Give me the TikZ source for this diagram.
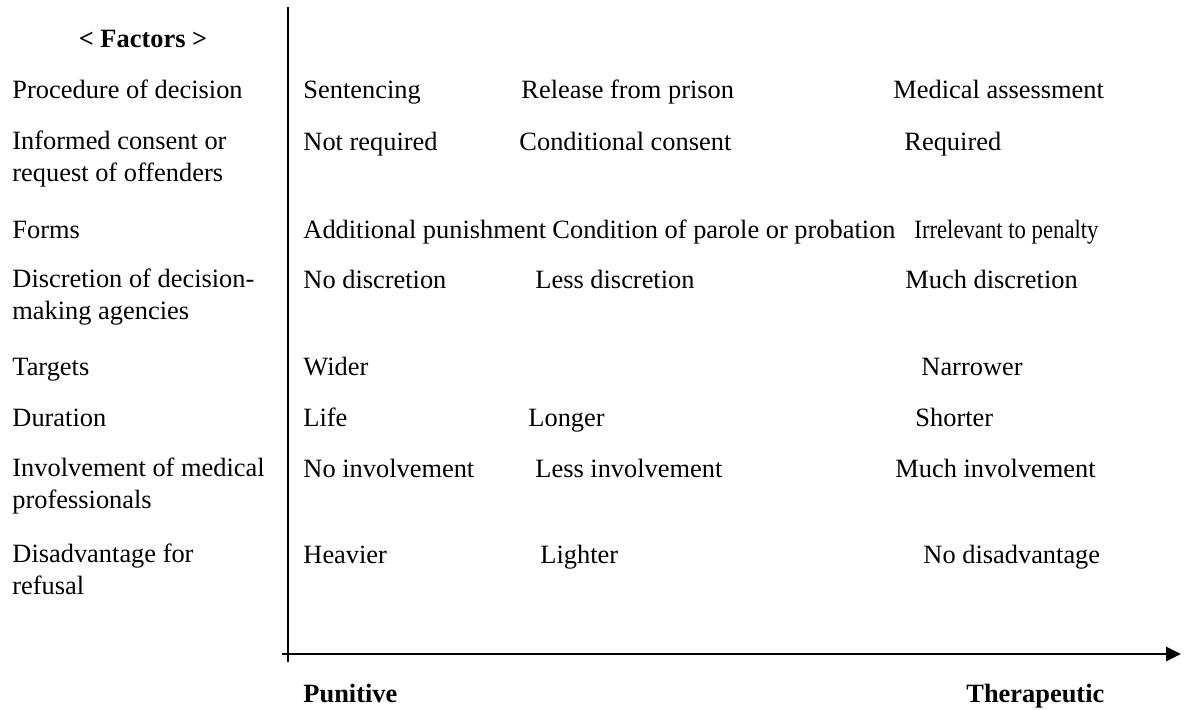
\documentclass[tikz,border=0pt]{standalone}
\usepackage{fontspec}
\setmainfont{Liberation Serif}
\usepackage{graphicx}
\usepackage{tikz}
\usetikzlibrary{arrows.meta}
\definecolor{mydark}{RGB}{0,0,0}
\tikzset{
  factor/.style={anchor=base west, inner sep=0pt, align=left,
    font=\fontsize{12pt}{14.1pt}\selectfont},
  level/.style={anchor=base west, inner sep=0pt,
    font=\fontsize{12pt}{14.1pt}\selectfont},
  pole/.style={anchor=base west, inner sep=0pt,
    font=\fontsize{12pt}{14.1pt}\selectfont\bfseries},
  axisline/.style={line width=1.1pt, color=mydark},
  axisarrow/.style={-{Triangle[length=6.8pt, width=6.4pt]}, line width=1.1pt, color=mydark}
}

\begin{document}
\begin{tikzpicture}[x=0.4545pt, y=-0.4545pt]
  \useasboundingbox (0,0) rectangle (1185,709);

  % ── Header ──
  \node[pole, anchor=base] (hdr) at (143,47) {< Factors >};

  % ── Procedure of decision ──
  \node[factor] (fproc) at (12,98) {Procedure of decision};
  \node[level] (proca) at (303,98) {Sentencing};
  \node[level] (procb) at (521,98) {Release from prison};
  \node[level] (procc) at (893,98) {Medical assessment};

  % ── Informed consent (two-line factor: base = last line) ──
  \node[factor] (fcons) at (12,181) {Informed consent or\\request of offenders};
  \node[level] (consa) at (303,150) {Not required};
  \node[level] (consb) at (519,150) {Conditional consent};
  \node[level] (consc) at (904,150) {Required};

  % ── Forms ──
  \node[factor] (fform) at (12,238) {Forms};
  \node[level] (forma) at (303,238) {Additional punishment};
  \node[level] (formb) at (552,238) {Condition of parole or probation};
  \node[level] (formc) at (914,238) {\scalebox{0.86}[1]{Irrelevant to penalty}};

  % ── Discretion ──
  \node[factor] (fdisc) at (12,319) {Discretion of decision-\\making agencies};
  \node[level] (disca) at (303,288) {No discretion};
  \node[level] (discb) at (535,288) {Less discretion};
  \node[level] (discc) at (905,288) {Much discretion};

  % ── Targets ──
  \node[factor] (ftarg) at (12,375) {Targets};
  \node[level] (targa) at (303,375) {Wider};
  \node[level] (targc) at (921,375) {Narrower};

  % ── Duration ──
  \node[factor] (fdur) at (12,426) {Duration};
  \node[level] (dura) at (303,426) {Life};
  \node[level] (durb) at (528,426) {Longer};
  \node[level] (durc) at (915,426) {Shorter};

  % ── Involvement ──
  \node[factor] (finv) at (12,508) {Involvement of medical\\professionals};
  \node[level] (inva) at (303,477) {No involvement};
  \node[level] (invb) at (535,477) {Less involvement};
  \node[level] (invc) at (895,477) {Much involvement};

  % ── Disadvantage ──
  \node[factor] (fdis) at (12,594) {Disadvantage for\\refusal};
  \node[level] (disa) at (303,563) {Heavier};
  \node[level] (disb) at (540,563) {Lighter};
  \node[level] (disc) at (923,563) {No disadvantage};

  % ── Axes ──
  \coordinate (vtop) at (288,7);
  \coordinate (vbot) at (288,662);
  \coordinate (hleft) at (282,654);
  \coordinate (hright) at (1181,654);
  \draw[axisline] (vtop) -- (vbot);
  \draw[axisarrow] (hleft) -- (hright);

  \node[pole] (punit) at (303,702) {Punitive};
  \node[pole] (thera) at (966,702) {Therapeutic};
\end{tikzpicture}
\end{document}
